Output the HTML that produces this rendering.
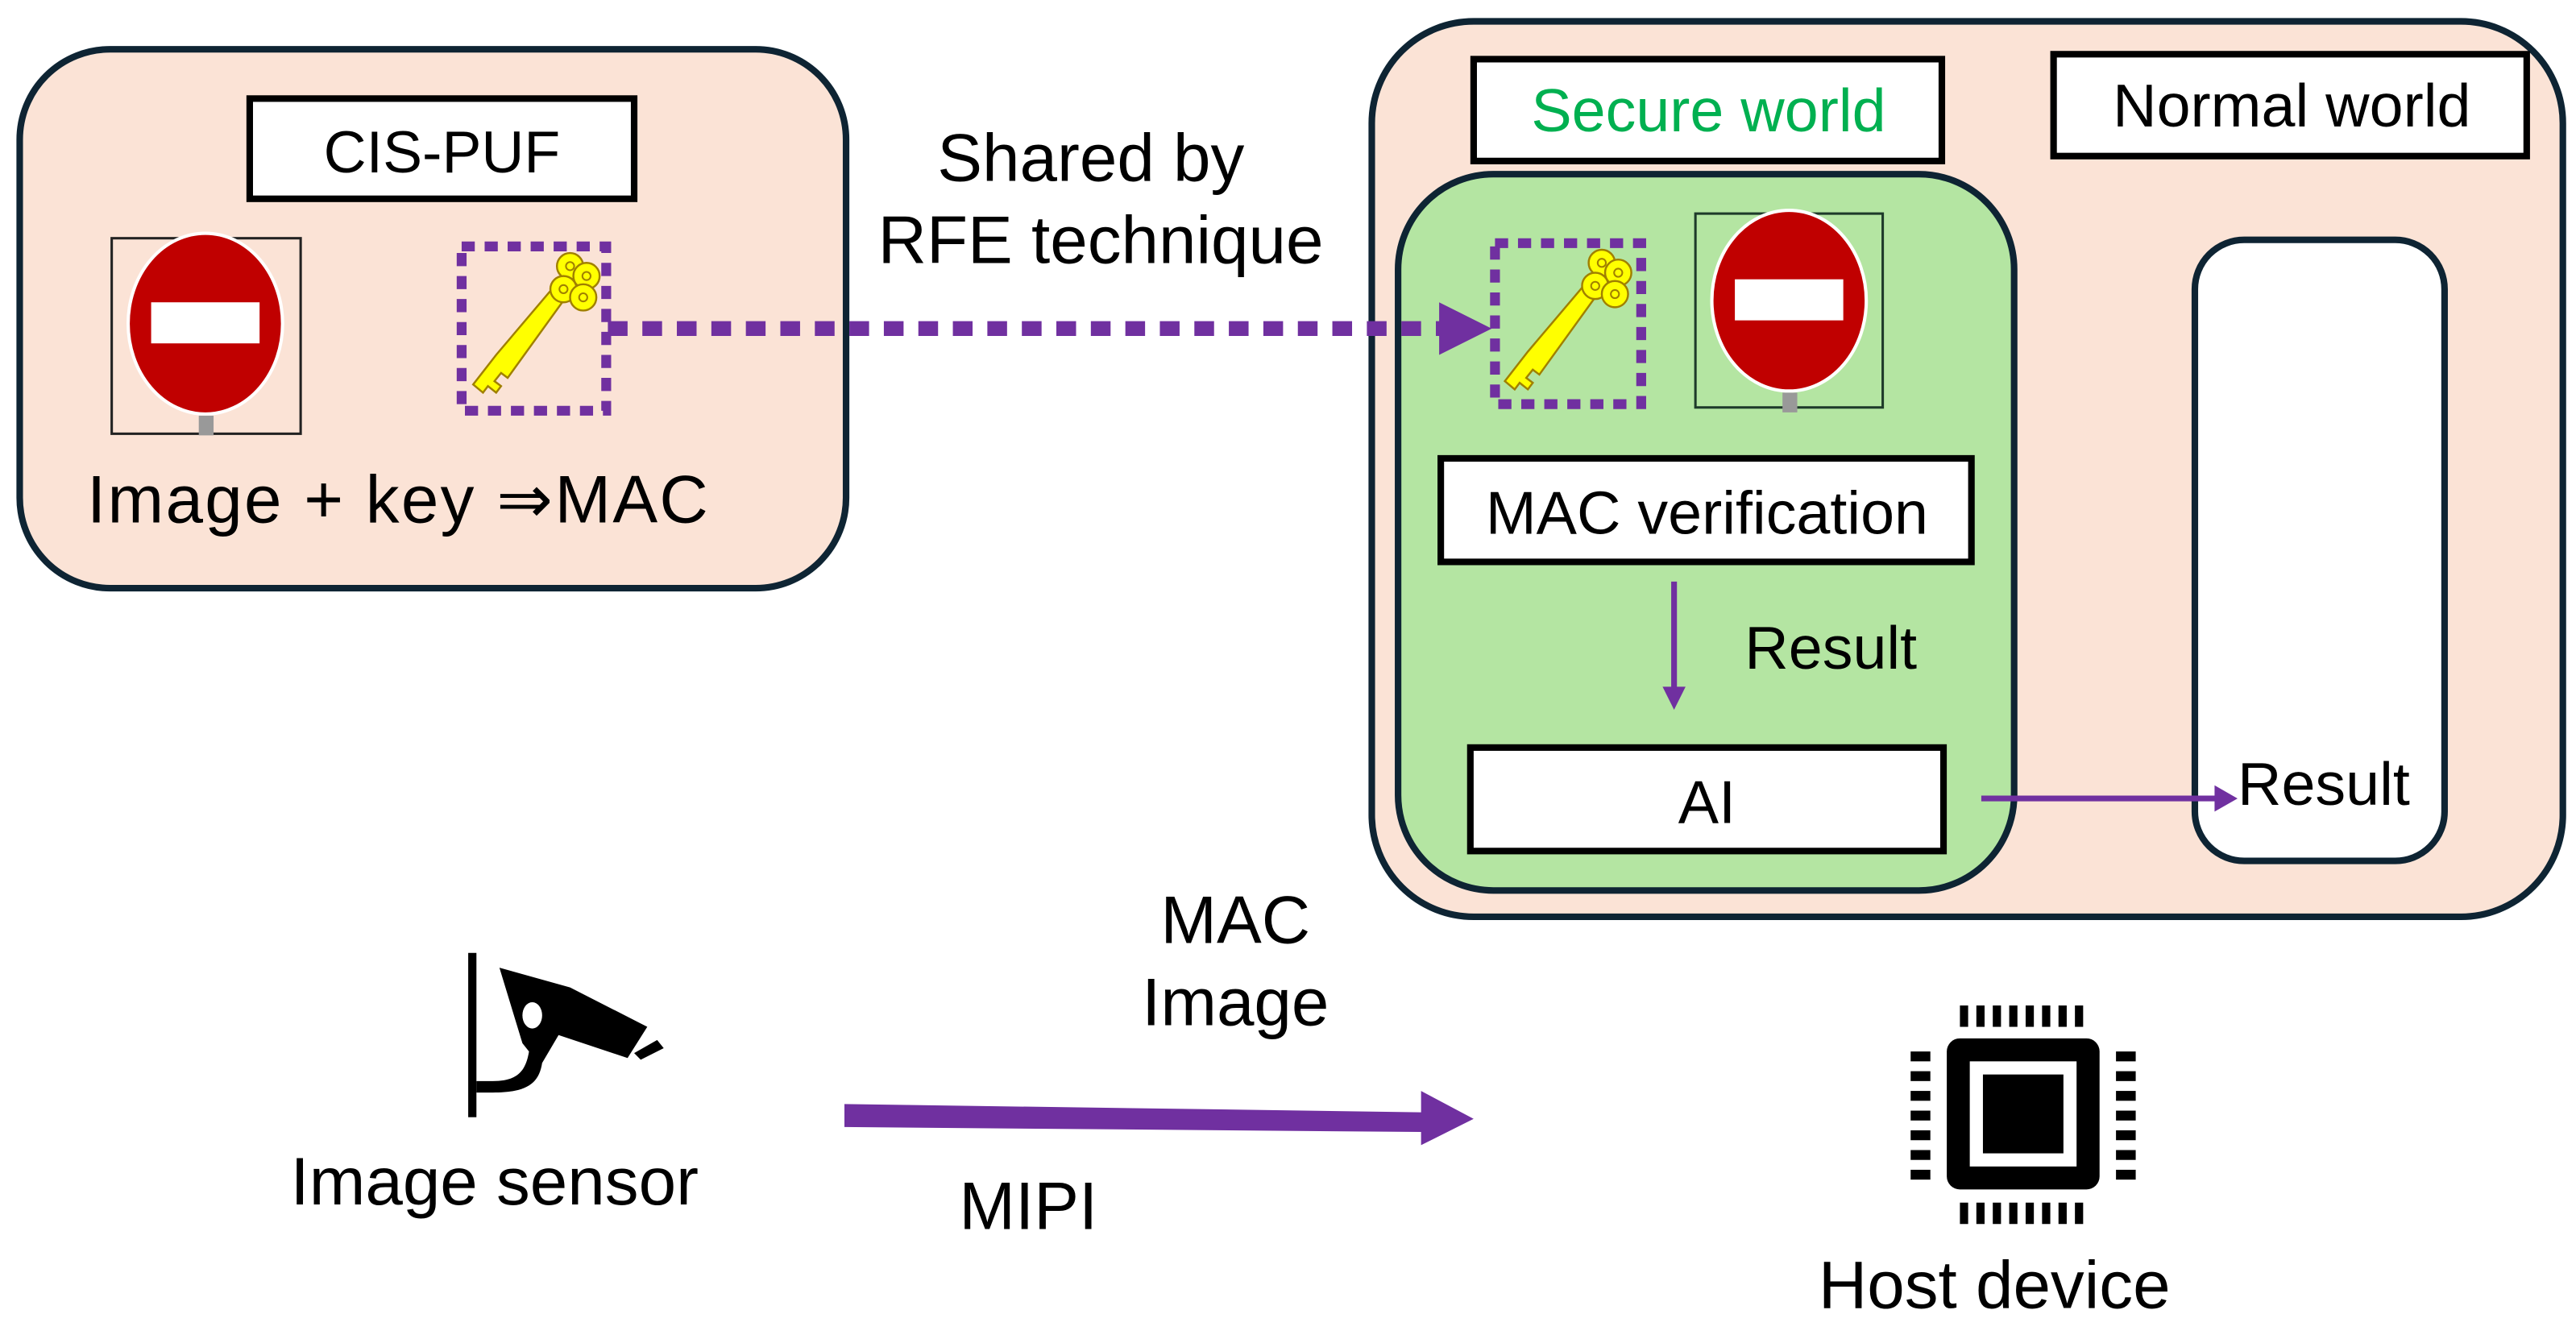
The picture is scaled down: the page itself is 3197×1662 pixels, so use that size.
<!DOCTYPE html>
<html><head><meta charset="utf-8"><style>html,body{margin:0;padding:0;background:#fff}svg{display:block}</style></head>
<body>
<svg width="3197" height="1662" viewBox="0 0 1568 815" preserveAspectRatio="none" xmlns="http://www.w3.org/2000/svg" font-family="Liberation Sans, Arial, sans-serif">
<defs>
<g id="stop">
<ellipse cx="0" cy="0" rx="47" ry="55" fill="#c00000" stroke="#fff" stroke-width="2"/>
<rect x="-33" y="-13" width="66" height="25" fill="#fff"/>
<rect x="-4" y="56" width="9" height="12" fill="#999"/>
</g>
<g id="key">
<g fill="#ffff00" stroke="#a08000" stroke-width="1.2">
<path d="M56 18 L63 24 L24 78 L20 75 L16 80 L20 83 L17 87 L12 83 L9 87 L3 82 L17 64 Z"/>
<circle cx="62" cy="10" r="8"/><circle cx="72" cy="16" r="8"/><circle cx="58" cy="24" r="8"/><circle cx="70" cy="29" r="8"/>
</g>
<g fill="#ffff00" stroke="#a08000" stroke-width="1"><circle cx="62" cy="10" r="2.5"/><circle cx="72" cy="16" r="2.5"/><circle cx="58" cy="24" r="2.5"/><circle cx="70" cy="29" r="2.5"/></g>
</g>
</defs>

<!-- Left box -->
<rect x="12" y="30" width="503" height="328" rx="55" fill="#fbe3d6" stroke="#0e2433" stroke-width="4"/>
<rect x="152" y="60" width="234" height="61" fill="#fff" stroke="#000" stroke-width="4"/>
<text x="269" y="105" font-size="36" text-anchor="middle">CIS-PUF</text>
<rect x="68" y="145" width="115" height="119" fill="#fbe3d6" stroke="#222" stroke-width="1.5"/>
<use href="#stop" x="125" y="197"/>
<rect x="281" y="150" width="88" height="100" fill="none" stroke="#7030a0" stroke-width="6" stroke-dasharray="8,6"/>
<use href="#key" x="285" y="152"/>
<text x="53" y="318" font-size="41" textLength="378">Image + key ⇒MAC</text>

<text x="664" y="110" font-size="41" text-anchor="middle">Shared by</text>
<text x="670" y="160" font-size="41" text-anchor="middle">RFE technique</text>

<!-- Right box -->
<rect x="835" y="13" width="725" height="545" rx="62" fill="#fbe3d6" stroke="#0e2433" stroke-width="4"/>
<rect x="897" y="36" width="285" height="62" fill="#fff" stroke="#000" stroke-width="4"/>
<text x="1040" y="80" font-size="37" text-anchor="middle" fill="#00b050">Secure world</text>
<rect x="1250" y="33" width="288" height="62" fill="#fff" stroke="#000" stroke-width="4"/>
<text x="1395" y="77" font-size="37" text-anchor="middle">Normal world</text>
<rect x="851" y="106" width="375" height="436" rx="58" fill="#b4e5a2" stroke="#0e2433" stroke-width="4"/>
<rect x="910" y="148" width="89" height="98" fill="none" stroke="#7030a0" stroke-width="6" stroke-dasharray="8,6"/>
<use href="#key" x="913" y="150"/>
<rect x="1032" y="130" width="114" height="118" fill="#b4e5a2" stroke="#1e3a2a" stroke-width="1.5"/>
<use href="#stop" x="1089" y="183"/>
<rect x="877" y="279" width="323" height="63" fill="#fff" stroke="#000" stroke-width="4"/>
<text x="1039" y="325" font-size="37" text-anchor="middle">MAC verification</text>
<line x1="1019" y1="354" x2="1019" y2="420" stroke="#7030a0" stroke-width="3.5"/>
<polygon points="1012,418 1026,418 1019,432" fill="#7030a0"/>
<text x="1062" y="407" font-size="37">Result</text>
<rect x="895" y="455" width="288" height="63" fill="#fff" stroke="#000" stroke-width="4"/>
<text x="1039" y="501" font-size="37" text-anchor="middle">AI</text>
<rect x="1336" y="146" width="152" height="378" rx="30" fill="#fff" stroke="#0e2433" stroke-width="4"/>
<line x1="1206" y1="486" x2="1350" y2="486" stroke="#7030a0" stroke-width="3.5"/>
<polygon points="1348,478 1362,486 1348,494" fill="#7030a0"/>
<text x="1362" y="490" font-size="37">Result</text>

<!-- Dotted arrow -->
<line x1="370" y1="200" x2="878" y2="200" stroke="#7030a0" stroke-width="9" stroke-dasharray="12,9"/>
<polygon points="876,184 908,200 876,216" fill="#7030a0"/>

<!-- Camera icon -->
<rect x="285" y="580" width="5" height="100" fill="#000"/>
<path d="M304 589 L347 601 L394 625 L382 644 L340 630 L330 647 C328 660 320 665 300 665 L290 665 L290 658 L300 658 C315 658 320 652 322 640 L318 635 Z" fill="#000"/>
<ellipse cx="324" cy="618" rx="6" ry="8" fill="#fff"/>
<polygon points="386,641 400,633 404,638 390,645" fill="#000"/>
<text x="301" y="733" font-size="41" text-anchor="middle">Image sensor</text>

<!-- MIPI arrow -->
<polygon points="514,672 865,677 865,664 897,681 865,697 865,689 514,686" fill="#7030a0"/>
<text x="752" y="574" font-size="41" text-anchor="middle">MAC</text>
<text x="752" y="624" font-size="41" text-anchor="middle">Image</text>
<text x="626" y="748" font-size="41" text-anchor="middle">MIPI</text>

<!-- Chip -->
<rect x="1185" y="632" width="93" height="92" rx="8" fill="#000"/>
<rect x="1199" y="646" width="65" height="64" fill="#fff"/>
<rect x="1207" y="654" width="49" height="48" fill="#000"/>
<g fill="#000">
<rect x="1193" y="612" width="5" height="13"/><rect x="1203" y="612" width="5" height="13"/><rect x="1213" y="612" width="5" height="13"/><rect x="1223" y="612" width="5" height="13"/><rect x="1233" y="612" width="5" height="13"/><rect x="1243" y="612" width="5" height="13"/><rect x="1253" y="612" width="5" height="13"/><rect x="1263" y="612" width="5" height="13"/>
<rect x="1193" y="732" width="5" height="13"/><rect x="1203" y="732" width="5" height="13"/><rect x="1213" y="732" width="5" height="13"/><rect x="1223" y="732" width="5" height="13"/><rect x="1233" y="732" width="5" height="13"/><rect x="1243" y="732" width="5" height="13"/><rect x="1253" y="732" width="5" height="13"/><rect x="1263" y="732" width="5" height="13"/>
<rect x="1163" y="640" width="12" height="6"/><rect x="1163" y="652" width="12" height="6"/><rect x="1163" y="664" width="12" height="6"/><rect x="1163" y="676" width="12" height="6"/><rect x="1163" y="688" width="12" height="6"/><rect x="1163" y="700" width="12" height="6"/><rect x="1163" y="712" width="12" height="6"/>
<rect x="1288" y="640" width="12" height="6"/><rect x="1288" y="652" width="12" height="6"/><rect x="1288" y="664" width="12" height="6"/><rect x="1288" y="676" width="12" height="6"/><rect x="1288" y="688" width="12" height="6"/><rect x="1288" y="700" width="12" height="6"/><rect x="1288" y="712" width="12" height="6"/>
</g>
<text x="1214" y="796" font-size="41" text-anchor="middle">Host device</text>
</svg>
</body></html>
